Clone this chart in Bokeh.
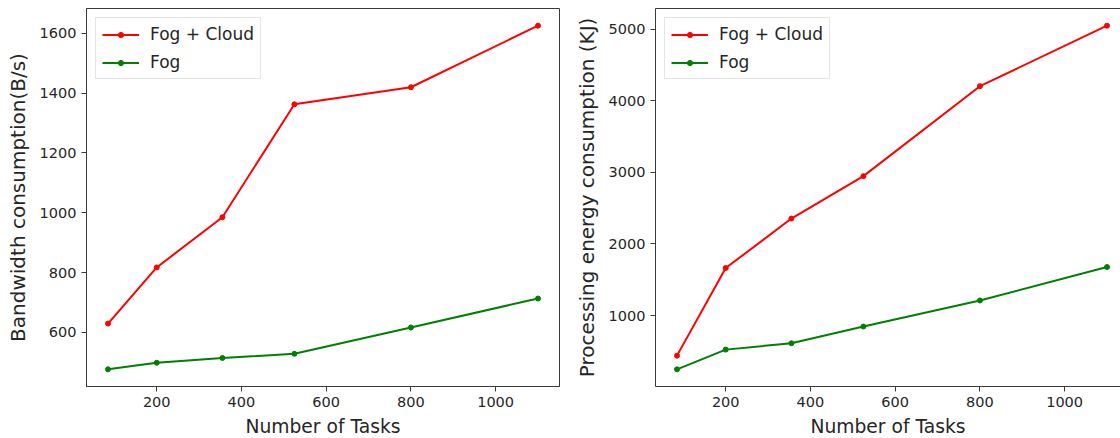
from bokeh.plotting import figure
from bokeh.layouts import row
from bokeh.models import Range1d, LinearAxis, FixedTicker, Legend, LegendItem
from bokeh.embed import file_html
from bokeh.resources import INLINE

# ---- data ----
tasks = [85, 200, 355, 525, 800, 1100]
bw_fog_cloud = [629, 817, 985, 1363, 1420, 1626]
bw_fog = [476, 498, 514, 528, 616, 713]
en_fog_cloud = [440, 1663, 2354, 2946, 4202, 5047]
en_fog = [249, 524, 613, 846, 1210, 1677]
x_ticks = [200, 400, 600, 800, 1000]
bw_ticks = [600, 800, 1000, 1200, 1400, 1600]
en_ticks = [1000, 2000, 3000, 4000, 5000]
series_labels = ["Fog + Cloud", "Fog"]
x_label = "Number of Tasks"
bw_label = "Bandwidth consumption(B/s)"
en_label = "Processing energy consumption (KJ)"

FONT = "DejaVu Sans"
AX = "#3a3a3a"
TXT = "#262626"
RED = "#ff0000"
GREEN = "#008000"


def pad_range(vals):
    lo, hi = min(vals), max(vals)
    m = 0.05 * (hi - lo)
    return lo - m, hi + m


def style_axis(ax, ticks=None, label=None, label_size="18px", hide=False):
    ax.axis_line_color = AX
    ax.axis_line_width = 1
    ax.major_tick_line_color = AX
    ax.major_tick_in = 0
    ax.major_tick_out = 0 if hide else 5
    ax.minor_tick_in = 0
    ax.minor_tick_out = 0
    ax.minor_tick_line_color = None
    ax.major_label_text_font = FONT
    ax.major_label_text_color = TXT
    ax.major_label_text_font_size = "0px" if hide else "14.5px"
    ax.major_label_standoff = 0 if hide else 5
    if ticks is not None:
        ax.ticker = FixedTicker(ticks=ticks)
    if label:
        ax.axis_label = label
        ax.axis_label_text_font = FONT
        ax.axis_label_text_font_size = label_size
        ax.axis_label_text_font_style = "normal"
        ax.axis_label_text_color = TXT


def make(red_vals, green_vals, yticks, ylabel, border_left, frame_w, cut_right):
    x0, x1 = pad_range(tasks)
    full_w = 473
    if cut_right:
        x1 = x0 + (x1 - x0) * frame_w / full_w
    y0, y1 = pad_range(red_vals + green_vals)
    p = figure(
        width=border_left + frame_w + (0 if cut_right else 1),
        height=438,
        frame_width=frame_w,
        frame_height=378,
        min_border_left=border_left,
        min_border_right=0 if cut_right else 1,
        min_border_top=8,
        min_border_bottom=52,
        x_range=Range1d(x0, x1),
        y_range=Range1d(y0, y1),
        output_backend="svg",
        toolbar_location=None,
        background_fill_color="white",
        border_fill_color="white",
    )
    p.xgrid.visible = False
    p.ygrid.visible = False

    bottom_axis = p.below[0]
    left_axis = p.left[0]
    style_axis(bottom_axis, x_ticks, x_label, "18.7px")
    bottom_axis.axis_label_standoff = 6
    style_axis(left_axis, yticks, ylabel, "20px")
    left_axis.axis_label_standoff = 7

    if cut_right:
        p.outline_line_color = None
        top = LinearAxis(ticker=FixedTicker(ticks=[]))
        style_axis(top, hide=True)
        p.add_layout(top, "above")
    else:
        p.outline_line_color = AX
        p.outline_line_width = 1
        p.outline_line_alpha = 1

    lr = p.line(tasks, red_vals, line_color=RED, line_width=2)
    sr = p.scatter(tasks, red_vals, marker="circle", size=5,
                   fill_color=RED, line_color=RED)
    lg = p.line(tasks, green_vals, line_color=GREEN, line_width=2)
    sg = p.scatter(tasks, green_vals, marker="circle", size=5,
                   fill_color=GREEN, line_color=GREEN)

    legend = Legend(
        items=[LegendItem(label=series_labels[0], renderers=[lr, sr]),
               LegendItem(label=series_labels[1], renderers=[lg, sg])],
        location="top_left",
        margin=9,
        padding=6,
        spacing=8,
        glyph_width=37,
        glyph_height=13,
        label_height=20,
        label_standoff=11,
        label_text_font=FONT,
        label_text_font_size="17px",
        label_text_color=TXT,
        border_line_color="#cccccc",
        border_line_width=1,
        background_fill_color="white",
        background_fill_alpha=0.8,
    )
    p.add_layout(legend, "center")
    return p


p1 = make(bw_fog_cloud, bw_fog, bw_ticks, bw_label, 86, 473, False)
p2 = make(en_fog_cloud, en_fog, en_ticks, en_label, 95, 465, True)

layout = row(p1, p2)
open("out.html", "w").write(file_html(layout, INLINE))
